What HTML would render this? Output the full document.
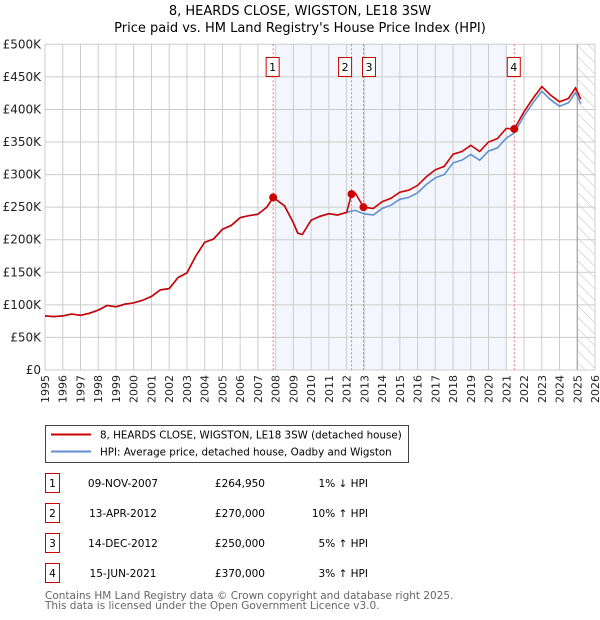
<!DOCTYPE html>
<html><head><meta charset="utf-8"><style>
body{margin:0;background:#fff;font-family:"DejaVu Sans","Liberation Sans",sans-serif;}
#wrap{position:relative;width:600px;height:620px;overflow:hidden;}
svg text{font-family:"DejaVu Sans","Liberation Sans",sans-serif;}
</style></head><body><div id="wrap">
<svg id="chart" width="600" height="620"></svg>
</div>
<script>
const hpiYears=[1995,1995.5,1996,1996.5,1997,1997.5,1998,1998.5,1999,1999.5,2000,2000.5,2001,2001.5,2002,2002.5,2003,2003.5,2004,2004.5,2005,2005.5,2006,2006.5,2007,2007.5,2007.86,2008.5,2009,2009.25,2009.5,2010,2010.5,2011,2011.5,2012,2012.28,2012.5,2012.95,2013.5,2014,2014.5,2015,2015.5,2016,2016.5,2017,2017.5,2018,2018.5,2019,2019.5,2020,2020.5,2021,2021.45,2022,2022.5,2023,2023.5,2024,2024.5,2024.9,2025.2];
const hpiValues=[83,82,83,86,84,87,92,99,97,101,103,107,113,123,125,142,149,175,196,201,216,222,234,237,239,250,265,252,226,210,208,230,236,240,238,242,244,245,240,238,248,253,262,265,272,285,295,300,318,322,331,322,336,341,356,364,390,410,428,415,405,410,426,409];
const saleDates=[2007.86,2012.28,2012.95,2021.45];
const salePrices=[264950,270000,250000,370000];
const saleLabels=["1","2","3","4"];
const saleDateText=["09-NOV-2007","13-APR-2012","14-DEC-2012","15-JUN-2021"];
const salePriceText=["£264,950","£270,000","£250,000","£370,000"];
const saleHpiText=["1% ↓ HPI","10% ↑ HPI","5% ↑ HPI","3% ↑ HPI"];
const yTicks=[0,50,100,150,200,250,300,350,400,450,500];
const yTickLabels=["£0","£50K","£100K","£150K","£200K","£250K","£300K","£350K","£400K","£450K","£500K"];
const xTicks=[1995,1996,1997,1998,1999,2000,2001,2002,2003,2004,2005,2006,2007,2008,2009,2010,2011,2012,2013,2014,2015,2016,2017,2018,2019,2020,2021,2022,2023,2024,2025,2026];

const L=45,R=595,T=44.3,B=370;
const X=y=>L+(y-1995)/(2026-1995)*(R-L);
const Y=v=>B-v/500*(B-T);
const NS="http://www.w3.org/2000/svg";
const svg=document.getElementById('chart');
function mk(tag,attrs,parent){const e=document.createElementNS(NS,tag);for(const k in attrs)e.setAttribute(k,attrs[k]);(parent||svg).appendChild(e);return e;}
function hpiAt(t){for(let i=1;i<hpiYears.length;i++){if(t<=hpiYears[i]){const f=(t-hpiYears[i-1])/(hpiYears[i]-hpiYears[i-1]);return hpiValues[i-1]+f*(hpiValues[i]-hpiValues[i-1]);}}return hpiValues[hpiValues.length-1];}

let t=mk('text',{x:300,y:15,'text-anchor':'middle','font-size':13});t.textContent="8, HEARDS CLOSE, WIGSTON, LE18 3SW";

t=mk('text',{x:300,y:32,'text-anchor':'middle','font-size':13});t.textContent="Price paid vs. HM Land Registry's House Price Index (HPI)";


let sh=mk('rect',{x:X(saleDates[0])+2,y:T,width:X(2021)-X(saleDates[0])-2,height:B-T,fill:'#eef3fc',opacity:0.7});

const defs=mk('defs',{});const pat=mk('pattern',{id:'hatch',width:8,height:8,patternUnits:'userSpaceOnUse',patternTransform:'rotate(-45)'},defs);
mk('line',{x1:0,y1:0,x2:0,y2:8,stroke:'#bbb','stroke-width':1},pat);
let hr=mk('rect',{x:X(2025),y:T,width:R-X(2025),height:B-T,fill:'url(#hatch)'});


yTicks.forEach((v,i)=>{const g=mk('line',{x1:L,x2:R,y1:Y(v),y2:Y(v),stroke:'#ccc','stroke-width':1});

const tx=mk('text',{x:L-4,y:Y(v)+4,'text-anchor':'end','font-size':12,fill:'#222'});tx.textContent=yTickLabels[i];
});
xTicks.forEach(yr=>{const g=mk('line',{x1:X(yr),x2:X(yr),y1:T,y2:B,stroke:'#ccc','stroke-width':1});

const tx=mk('text',{x:0,y:0,'text-anchor':'end','font-size':11,fill:'#222',transform:`translate(${X(yr)+4},375) rotate(-90)`});tx.textContent=yr;
});
let vl=mk('line',{x1:X(2025),x2:X(2025),y1:T,y2:B,stroke:'#999','stroke-width':1});


saleDates.forEach((d,i)=>{const l=mk('line',{x1:X(d),x2:X(d),y1:T,y2:B,stroke:'#f07070','stroke-width':1,'stroke-dasharray':'2,2'});

const bx=X(d)-(i==1?13:i==2?1:7), bw=13;
const r=mk('rect',{x:bx,y:57.5,width:bw,height:19,fill:'#fff',stroke:'#c00','stroke-width':1});

const tx=mk('text',{x:bx+bw/2,y:71,'text-anchor':'middle','font-size':11});tx.textContent=saleLabels[i];
});

const hp=hpiYears.map((y,i)=>`${X(y).toFixed(1)},${Y(hpiValues[i]).toFixed(1)}`).join(' ');
let pl=mk('polyline',{points:hp,fill:'none',stroke:'#6090d0','stroke-width':1.6});

const redPts=hpiYears.map((y,i)=>{let f=salePrices[0]/1000/hpiAt(saleDates[0]);for(let k=0;k<saleDates.length;k++){if(y>=saleDates[k])f=salePrices[k]/1000/hpiAt(saleDates[k]);}return `${X(y).toFixed(1)},${Y(hpiValues[i]*f).toFixed(1)}`;}).join(' ');
let rl=mk('polyline',{points:redPts,fill:'none',stroke:'#cc0000','stroke-width':1.6});

saleDates.forEach((d,i)=>{const c=mk('circle',{cx:X(d),cy:Y(salePrices[i]/1000),r:4,fill:'#cc0000'});
});

let lg=mk('rect',{x:45.5,y:425.5,width:363,height:37,fill:'#fff',stroke:'#444','stroke-width':1});

let ll=mk('line',{x1:51,x2:91,y1:434.5,y2:434.5,stroke:'#cc0000','stroke-width':2});
t=mk('text',{x:100,y:438.5,'font-size':10.3});t.textContent="8, HEARDS CLOSE, WIGSTON, LE18 3SW (detached house)";
ll=mk('line',{x1:51,x2:91,y1:451.5,y2:451.5,stroke:'#6090d0','stroke-width':2});
t=mk('text',{x:100,y:455.5,'font-size':10.3});t.textContent="HPI: Average price, detached house, Oadby and Wigston";

saleLabels.forEach((s,i)=>{const cy=483+i*30;
const r=mk('rect',{x:45.5,y:cy-9.5,width:14,height:19,fill:'#fff',stroke:'#c00','stroke-width':1});
let a=mk('text',{x:52.5,y:cy+4,'text-anchor':'middle','font-size':10.5});a.textContent=s;
a=mk('text',{x:123,y:cy+4,'text-anchor':'middle','font-size':10.5});a.textContent=saleDateText[i];
a=mk('text',{x:265,y:cy+4,'text-anchor':'end','font-size':10.5});a.textContent=salePriceText[i];
a=mk('text',{x:368,y:cy+4,'text-anchor':'end','font-size':10.5});a.textContent=saleHpiText[i];});
t=mk('text',{x:45,y:599,'font-size':10.5,fill:'#666'});t.textContent="Contains HM Land Registry data © Crown copyright and database right 2025.";
t=mk('text',{x:45,y:609,'font-size':10.5,fill:'#666'});t.textContent="This data is licensed under the Open Government Licence v3.0.";
</script></body></html>
